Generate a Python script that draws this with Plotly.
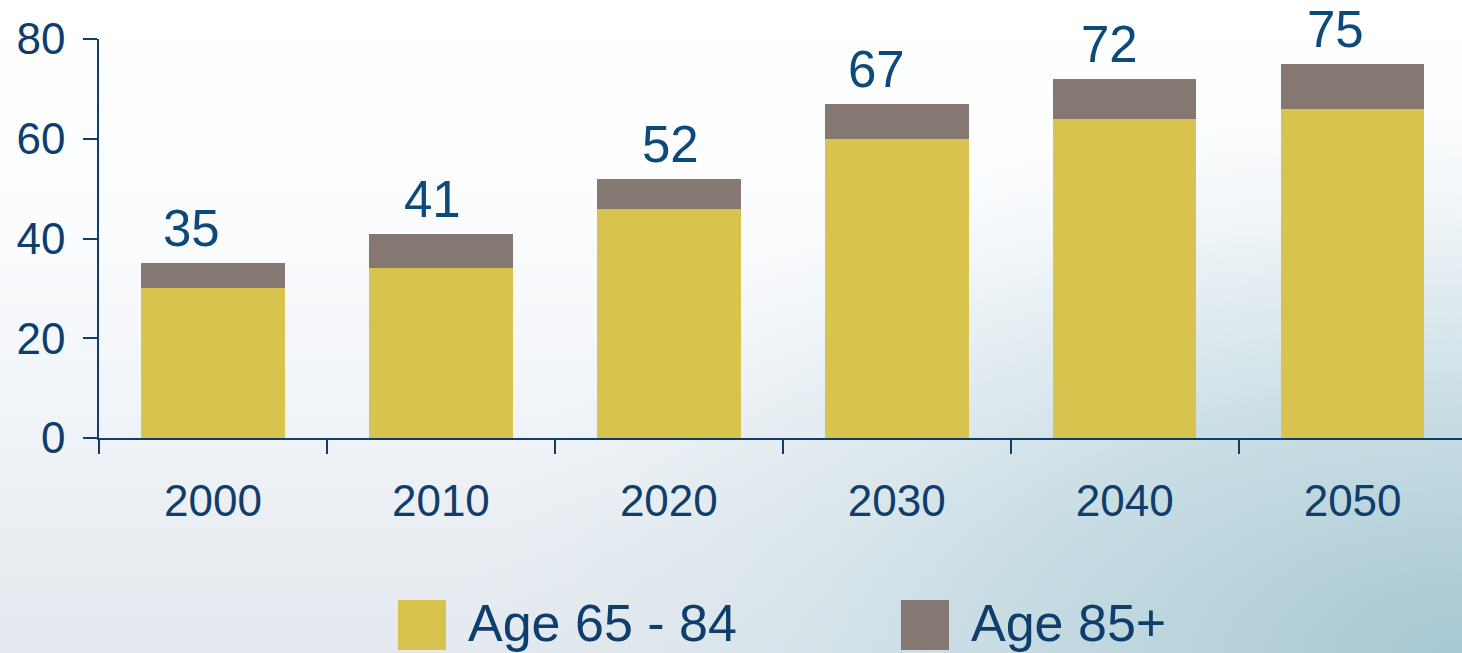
import base64
import plotly.graph_objects as go

years = ["2000", "2010", "2020", "2030", "2040", "2050"]
age_65_84 = [30, 34, 46, 60, 64, 66]
age_85_plus = [5, 7, 6, 7, 8, 9]
totals = [35, 41, 52, 67, 72, 75]
y_ticks = [0, 20, 40, 60, 80]
series_names = ["Age 65 - 84", "Age 85+"]

# styling
YELLOW = "#d9c34f"
GRAY = "#857873"
NAVY = "#0f3d6c"
LABEL_BLUE = "#0c4a7b"
FONT = "Liberation Sans, Arial, sans-serif"
label_xshift = [-21, -8, 2, -20, -15, -17]

W, H = 1462, 653
ML, MR, MT, MB = 99, 0, 39, 215
pw, ph = W - ML - MR, H - MT - MB

svg = f'''<svg xmlns="http://www.w3.org/2000/svg" width="{W}" height="{H}" viewBox="0 0 {W} {H}" preserveAspectRatio="none">
<defs>
<linearGradient id="v" x1="0" y1="0" x2="0" y2="1">
<stop offset="0" stop-color="#ffffff"/>
<stop offset="0.35" stop-color="#fbfcfe"/>
<stop offset="1" stop-color="#e3e9ef"/>
</linearGradient>
<radialGradient id="r" gradientUnits="userSpaceOnUse" cx="{W}" cy="{H}" r="1000" gradientTransform="translate({W} {H}) scale(1 0.55) translate(-{W} -{H})">
<stop offset="0" stop-color="#a6c7d2" stop-opacity="1"/>
<stop offset="0.45" stop-color="#bcd6de" stop-opacity="0.75"/>
<stop offset="1" stop-color="#d6e5ea" stop-opacity="0"/>
</radialGradient>
</defs>
<rect width="{W}" height="{H}" fill="url(#v)"/>
<rect width="{W}" height="{H}" fill="url(#r)"/>
</svg>'''
bg_src = "data:image/svg+xml;base64," + base64.b64encode(svg.encode()).decode()

fig = go.Figure()
fig.add_trace(go.Bar(x=years, y=age_65_84, name=series_names[0],
                     marker=dict(color=YELLOW, line=dict(width=0)), width=0.63))
fig.add_trace(go.Bar(x=years, y=age_85_plus, name=series_names[1],
                     marker=dict(color=GRAY, line=dict(width=0)), width=0.63))

for i, tot in enumerate(totals):
    fig.add_annotation(x=i, y=tot, text=str(tot), showarrow=False,
                       yanchor="bottom", yshift=4, xshift=label_xshift[i],
                       font=dict(family=FONT, size=51, color=LABEL_BLUE))

# manual legend
legend_items = [(series_names[0], YELLOW, 398), (series_names[1], GRAY, 901)]
for name, col, px in legend_items:
    x0 = (px - ML) / pw
    x1 = (px + 48 - ML) / pw
    y0 = (H - MB - 650) / ph
    y1 = (H - MB - 600) / ph
    fig.add_shape(type="rect", xref="paper", yref="paper", x0=x0, x1=x1, y0=y0, y1=y1,
                  fillcolor=col, line=dict(width=0), layer="above")
    fig.add_annotation(xref="paper", yref="paper", x=(px + 68 - ML) / pw,
                       y=(H - MB - 623) / ph, text=name, showarrow=False,
                       xanchor="left", yanchor="middle",
                       font=dict(family=FONT, size=52, color=NAVY))

fig.add_layout_image(dict(source=bg_src, xref="paper", yref="paper",
                          x=-ML / pw, y=1 + MT / ph, sizex=W / pw, sizey=H / ph,
                          xanchor="left", yanchor="top", sizing="stretch", layer="below"))

fig.update_layout(
    width=W, height=H,
    margin=dict(l=ML, r=MR, t=MT, b=MB, pad=0),
    barmode="stack",
    showlegend=False,
    paper_bgcolor="white",
    plot_bgcolor="rgba(0,0,0,0)",
    font=dict(family=FONT, color=NAVY),
    xaxis=dict(type="category", range=[-0.5, 5.48], showline=True, linecolor=NAVY,
               linewidth=1.5, ticks="outside", ticklen=14, tickwidth=1.5, tickcolor=NAVY,
               tickson="boundaries", showgrid=False, zeroline=False,
               tickfont=dict(family=FONT, size=44, color=NAVY), ticklabelstandoff=23),
    yaxis=dict(range=[0, 80], tickvals=y_ticks, showline=True, linecolor=NAVY,
               linewidth=1.5, ticks="outside", ticklen=14, tickwidth=1.5, tickcolor=NAVY,
               showgrid=False, zeroline=False,
               tickfont=dict(family=FONT, size=44, color=NAVY), ticklabelstandoff=9),
)

fig.write_html("out.html")
